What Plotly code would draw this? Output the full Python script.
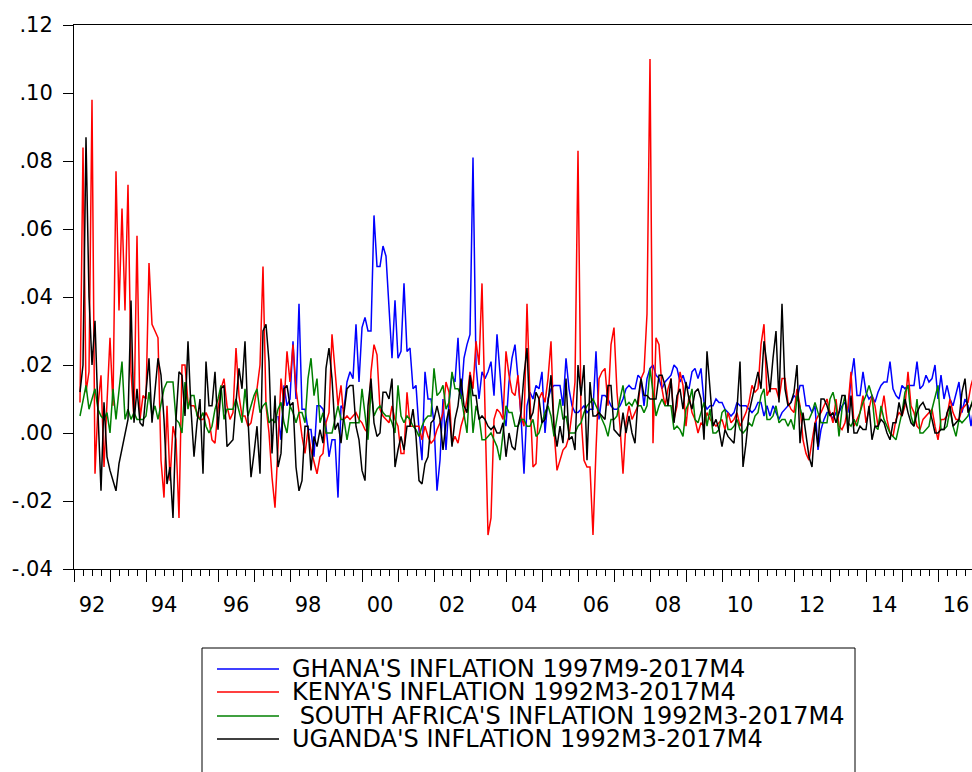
import plotly.graph_objects as go

# ---------------- DATA (monthly inflation, in thousandths) ----------------
SERIES_NAMES = [
    "GHANA'S INFLATION 1997M9-2017M4",
    "KENYA'S INFLATION 1992M3-2017M4",
    " SOUTH AFRICA'S INFLATION 1992M3-2017M4",
    "UGANDA'S INFLATION 1992M3-2017M4",
]
X_TICK_LABELS = ["92", "94", "96", "98", "00", "02", "04", "06", "08", "10", "12", "14", "16"]
Y_TICK_VALUES = [-0.04, -0.02, 0.00, 0.02, 0.04, 0.06, 0.08, 0.10, 0.12]
Y_TICK_LABELS = ["-.04", "-.02", ".00", ".02", ".04", ".06", ".08", ".10", ".12"]

# Ghana: 1997M9 .. 2017M4
ghana = [
    5, -2, 14, 8,                                       # 1997 M9-M12
    10, 27, 10, 38, 7, 7, 1, 1, -7, 8, 8, 7,            # 1998
    2, -7, -2, -2, -19, 8, 7, 15, 18, 16, 32, 15,       # 1999
    31, 34, 30, 30, 64, 49, 49, 55, 52, 35, 22, 39,     # 2000
    22, 24, 44, 24, 25, 13, 14, 1, -8, 18, 10, 10,      # 2001
    3, -17, -8, 10, -5, 9, 17, 15, 28, 10, 22, 26,      # 2002
    29, 81, 20, 10, 18, 16, 18, 21, 11, 29, 16, 6,      # 2003
    2, 15, 22, 26, 16, 5, -12, 8, 12, 10, 14, 13,       # 2004
    18, 0, 10, 13, 14, 14, 14, 8, 22, 13, 8, 6,         # 2005
    6, 7, 8, 6, 7, 7, 24, 4, 11, 11, 10, 8,             # 2006
    7, 7, 8, 10, 13, 14, 13, 13, 17, 16, 8, 16,         # 2007
    19, 20, 17, 16, 13, 15, 16, 17, 20, 19, 15, 17,     # 2008
    14, 13, 18, 19, 16, 19, 9, 7, 8, 8, 10, 9,          # 2009
    9, 7, 6, 5, 6, 9, 8, 8, 8, 7, 6, 7,                 # 2010
    9, 9, 5, 8, 5, 8, 6, 4, 6, 7, 8, 9,                 # 2011
    11, 10, 14, 14, 8, 8, 6, 8, -5, 1, 4, 6,            # 2012
    6, 4, 6, 6, 8, 9, 6, 16, 22, 11, 11, 18,            # 2013
    12, 10, 11, 9, 12, 14, 15, 15, 21, 13, 11, 10,      # 2014
    14, 13, 14, 14, 14, 21, 13, 14, 17, 15, 16, 20,     # 2015
    10, 17, 10, 14, 10, 8, 12, 15, 6, 10, 8, 2,         # 2016
    8, 12, 10, 14,                                      # 2017 M1-M4
]

# Kenya: 1992M3 .. 2017M4
kenya = [
    9, 84, 12, 18, 98, -12, 8, 17, -10, 8,              # 1992 M3-M12
    28, 8, 77, 36, 66, 36, 73, 18, 4, 58, 4, 11,        # 1993
    10, 50, 32, 30, 28, -8, -19, 8, -14, 2, -2, -25,    # 1994
    20, 20, 9, 8, 8, 6, 4, 4, 6, 4, -2, -3,             # 1995
    7, 13, 16, 8, 4, 6, 25, 11, 5, 5, 2, 3,             # 1996
    8, 13, 20, 49, 8, 0, -13, -22, -4, 16, 8, 24,       # 1997
    15, 26, 13, 5, -1, -6, 1, -5, -9, -12, -7, -6,      # 1998
    3, 6, 29, 17, 8, 14, 4, 5, 4, 5, 6, 4,              # 1999
    3, 1, 0, 18, 26, 23, 7, 5, 4, 3, 8, 4,              # 2000
    2, -6, -6, 12, 2, 2, 2, 2, -2, 2, -1, -3,           # 2001
    -2, 1, 3, 6, 15, 12, -3, -1, -3, 2, 5, 10,          # 2002
    18, 13, 27, 20, 44, 5, -30, -25, 4, 7, 6, 4,        # 2003
    24, 17, 12, 11, 17, 5, 2, 38, 10, -10, -9, 10,      # 2004
    12, 9, 16, 27, 1, -11, -8, -5, -4, -1, 6, 15,       # 2005
    83, 5, -8, -10, -10, -30, -5, 16, 18, 19, 8, 26,    # 2006
    31, 12, 2, -12, 3, 8, 4, 6, 8, 16, 18, 35,          # 2007
    110, -3, 28, 26, 13, 8, 13, 16, 4, 8, 18, 14,       # 2008
    2, 11, 6, 4, 0, 3, 2, 6, 4, 3, 2, 3,                # 2009
    4, 1, 6, 3, 4, 6, 2, 4, 6, 9, 14, 12,               # 2010
    13, 26, 32, 11, 13, 13, 13, 10, 16, 16, 9, 7,       # 2011
    6, 13, 8, -2, -6, -8, -3, 3, 5, 6, 8, 10,           # 2012
    6, 3, 10, 2, 1, 3, 8, 18, 2, 4, 6, 11,              # 2013
    3, 7, 11, 8, 2, 6, 11, 4, 0, -1, 4, 6,              # 2014
    5, 8, 18, 8, 6, 2, 1, 4, 5, 6, 7, 2,                # 2015
    -2, 4, 4, 5, 10, 6, 4, 4, 7, 8, 9, 14,              # 2016
    17, 12, 8, 10,                                      # 2017 M1-M4
]

# South Africa: 1992M3 .. 2017M4
south_africa = [
    5, 10, 14, 7, 10, 13, 7, 5, 4, 6,                   # 1992 M3-M12
    0, 13, 4, 13, 21, 4, 7, 4, 6, 4, 4, 4,              # 1993
    5, 12, 5, 8, 4, 8, 13, 15, 15, 15, 4, 3,            # 1994
    0, 15, 7, 11, 11, 5, 4, 6, 2, 0, 2, 7,              # 1995
    10, 14, 4, 7, 7, 7, 10, 6, 3, 13, 5, 8,             # 1996
    11, 13, 6, 8, 9, 3, 4, 3, 7, 9, 3, 0,               # 1997
    8, 6, 3, 6, 6, 3, 16, 22, 11, 16, 3, 6,             # 1998
    0, 0, 0, 4, 8, 4, 4, -2, 3, 3, 3, 3,                # 1999
    13, 6, -2, 13, 5, 7, 8, 6, 5, 5, 3, 0,              # 2000
    14, 5, 3, 5, 4, 2, 1, -1, 2, 4, 5, 5,               # 2001
    19, 11, 12, 14, 7, 9, 18, 13, 13, 11, 6, 0,         # 2002
    16, 0, 8, 5, -2, -2, -1, 0, -2, -4, -8, 0,          # 2003
    8, 6, 6, 2, 2, 4, 4, 2, 2, 4, -1, 0,                # 2004
    3, 6, 8, 5, -1, 4, 10, 4, 5, 0, 0, 0,               # 2005
    2, 3, 6, 8, 9, 10, 8, 6, 4, 2, -1, 4,               # 2006
    4, 5, 10, 14, 8, 9, 8, 10, 8, 8, 6, 8,              # 2007
    19, 11, 5, 8, 10, 8, 8, 8, 1, 2, 1, -1,             # 2008
    7, 9, 13, 4, 3, 6, 9, 2, 7, 0, 0, 1,                # 2009
    6, 7, 1, 1, 2, 4, 1, 0, 1, 3, 2, 5,                 # 2010
    6, 11, 13, 4, 4, 5, 8, 3, 4, 4, 2, 4,               # 2011
    1, 11, 7, 4, 4, 4, 6, 9, 6, 3, 3, 3,                # 2012
    10, 12, 8, -1, 7, 11, 3, 2, 4, 2, 6, 9,             # 2013
    11, 14, 11, 2, 1, 8, 4, 2, 0, -1, -2, 2,            # 2014
    6, 12, 14, 5, 2, 10, 0, 0, 1, 2, 7, 11,             # 2015
    14, 1, 1, 2, 7, 2, -1, 4, 3, 4, 5, 8,               # 2016
    11, 6, 4, 7,                                        # 2017 M1-M4
]

# Uganda: 1992M3 .. 2017M4
uganda = [
    12, 20, 87, 40, 20, 33, 6, -17, 9, -7,              # 1992 M3-M12
    -11, -14, -17, -9, -5, -1, 4, 39, 3, 13, 3, 2,      # 1993
    13, 22, 3, 12, 22, 17, 4, -15, -10, -25, 4, 18,     # 1994
    17, 5, 27, 7, -7, 3, 10, -12, 21, 8, 8, 18,         # 1995
    1, 13, 14, -4, -3, -2, 9, 19, 13, 27, 4, -13,       # 1996
    -6, 2, -12, 30, 32, 21, -6, 11, -10, -6, 13, 14,    # 1997
    8, 9, -10, -17, -14, 2, 2, -11, -1, -4, 1, -3,      # 1998
    19, 25, 16, 1, 3, -3, 6, 13, 14, 14, 2, -2,         # 1999
    -11, -14, 8, 16, 3, -1, 0, 12, 12, 10, 16, -10,     # 2000
    -5, -1, -5, 2, 2, 7, -1, -14, -15, -9, -7, 3,       # 2001
    4, 8, 4, -5, 3, 7, -4, 4, 8, 16, 8, 6,              # 2002
    17, 11, 11, 4, 5, 4, 2, 1, 2, 0, 0, 3,              # 2003
    -7, 0, -4, -5, 2, 6, 17, 25, 4, 6, 12, 10,          # 2004
    3, 4, 9, 17, 2, -4, 2, -3, 16, -2, -1, -5,          # 2005
    20, 11, 20, -8, 15, 5, 5, 6, 5, 4, 14, 14,          # 2006
    1, 0, -1, 6, 0, 5, 0, -3, 10, 16, 11, 11,           # 2007
    10, 10, 10, 17, 17, 14, 8, 16, 3, 11, 13, 7,        # 2008
    15, 10, 7, 12, 13, 10, -2, 24, 13, 2, 4, 1,         # 2009
    -4, 1, -1, -2, -3, 7, 21, -10, -3, 6, 10, 14,       # 2010
    18, 13, 27, 20, 12, 22, 30, 9, 38, 13, 8, 9,        # 2011
    12, 20, -3, 6, -1, -7, -10, 3, -4, 10, 10, 8,       # 2012
    5, 6, 3, 6, 11, 11, 0, 11, 0, 0, 2, 1,              # 2013
    1, 8, -2, 2, 2, 4, 3, 0, -2, 3, 3, 9,               # 2014
    5, 10, 6, 3, 2, 6, 8, 9, 7, 7, 4, 0,                # 2015
    0, 1, 1, 6, 8, 2, 3, 4, 12, 16, 6, 8,               # 2016
    10, 8, 9, 6,                                        # 2017 M1-M4
]

SERIES_STARTS = [(1997, 9), (1992, 3), (1992, 3), (1992, 3)]
SERIES_VALUES = [ghana, kenya, south_africa, uganda]
SERIES_COLORS = ["#0000FF", "#FF0000", "#008000", "#000000"]

# ---------------- FIGURE ----------------
W, H = 972, 772
PLOT_LEFT, PLOT_TOP, PLOT_BOTTOM = 74, 25, 569          # window pixels
L, T, R = PLOT_LEFT, PLOT_TOP, 0
B = H - PLOT_BOTTOM
PLOT_W = W - L - R
PLOT_H = H - T - B
PX_PER_YEAR = 36.0
X0 = 1992.0
X1 = X0 + PLOT_W / PX_PER_YEAR
FONT = "DejaVu Sans"


def monthly_x(year, month, n):
    return [year + (month - 1 + i) / 12.0 for i in range(n)]


def px_x(px):  # window pixel -> paper coordinate
    return (px - L) / PLOT_W


def px_y(py):
    return (H - B - py) / PLOT_H


fig = go.Figure()
for i, (name, (sy, sm), vals, col) in enumerate(
        zip(SERIES_NAMES, SERIES_STARTS, SERIES_VALUES, SERIES_COLORS)):
    fig.add_trace(go.Scatter(
        x=monthly_x(sy, sm, len(vals)),
        y=[v / 1000.0 for v in vals],
        mode="lines",
        name=name.strip(),
        line=dict(color=col, width=1.5),
        showlegend=False,
        hoverinfo="skip",
        xaxis="x2" if i == len(SERIES_NAMES) - 1 else "x",
    ))

label_years = [1992 + 2 * k for k in range(len(X_TICK_LABELS))]
year_ticks = list(range(1992, 2018))
quarter_ticks = [y + q / 4.0 for y in range(1992, 2018) for q in range(1, 4)]

fig.update_layout(
    width=W, height=H,
    margin=dict(l=L, r=R, t=T, b=B, pad=0, autoexpand=False),
    paper_bgcolor="white", plot_bgcolor="white",
    font=dict(family=FONT, color="black", size=21),
    xaxis=dict(
        range=[X0, X1],
        automargin=False,
        tickmode="array",
        tickvals=[y + 0.5 for y in label_years],
        ticktext=X_TICK_LABELS,
        ticks="",
        ticklabelstandoff=17,
        tickfont=dict(family=FONT, size=21, color="black"),
        showline=True, linecolor="black", linewidth=1, mirror=True,
        showgrid=False, zeroline=False,
        minor=dict(tickvals=quarter_ticks, ticks="outside", ticklen=6,
                   tickcolor="black", tickwidth=1, showgrid=False),
    ),
    xaxis2=dict(
        range=[X0, X1],
        automargin=False,
        overlaying="x", anchor="y", side="bottom",
        tickmode="array", tickvals=year_ticks,
        ticks="outside", ticklen=12, tickcolor="black", tickwidth=1,
        showticklabels=False, showline=False, showgrid=False, zeroline=False,
    ),
    yaxis=dict(
        range=[-0.04, 0.12],
        automargin=False,
        tickmode="array", tickvals=Y_TICK_VALUES, ticktext=Y_TICK_LABELS,
        ticks="outside", ticklen=10, tickcolor="black", tickwidth=1,
        ticklabelstandoff=6,
        tickfont=dict(family=FONT, size=21, color="black"),
        showline=True, linecolor="black", linewidth=1, mirror=False,
        showgrid=False, zeroline=False,
    ),
)

# ---------------- legend box (drawn below the plot, as in the original) ----------------
shapes = [dict(type="rect", xref="paper", yref="paper",
               x0=px_x(202), x1=px_x(855), y0=px_y(800), y1=px_y(648),
               line=dict(color="black", width=1), fillcolor="white", layer="below")]
annotations = []
row_y = [669, 692, 716, 739]
for name, col, ry in zip(SERIES_NAMES, SERIES_COLORS, row_y):
    shapes.append(dict(type="line", xref="paper", yref="paper",
                       x0=px_x(217), x1=px_x(279), y0=px_y(ry), y1=px_y(ry),
                       line=dict(color=col, width=1.5)))
    annotations.append(dict(xref="paper", yref="paper", x=px_x(290), y=px_y(ry),
                            text=name.replace(" ", "\u00a0", 1) if name.startswith(" ") else name,
                            showarrow=False, xanchor="left", yanchor="middle",
                            font=dict(family=FONT, size=24, color="black")))
fig.update_layout(shapes=shapes, annotations=annotations)

# Let the figure fill the window exactly (no default page margin), no mode bar.
fig.write_html(
    "out.html",
    config={"displayModeBar": False},
    post_script="document.body.style.margin='0';document.body.style.overflow='hidden';",
)
